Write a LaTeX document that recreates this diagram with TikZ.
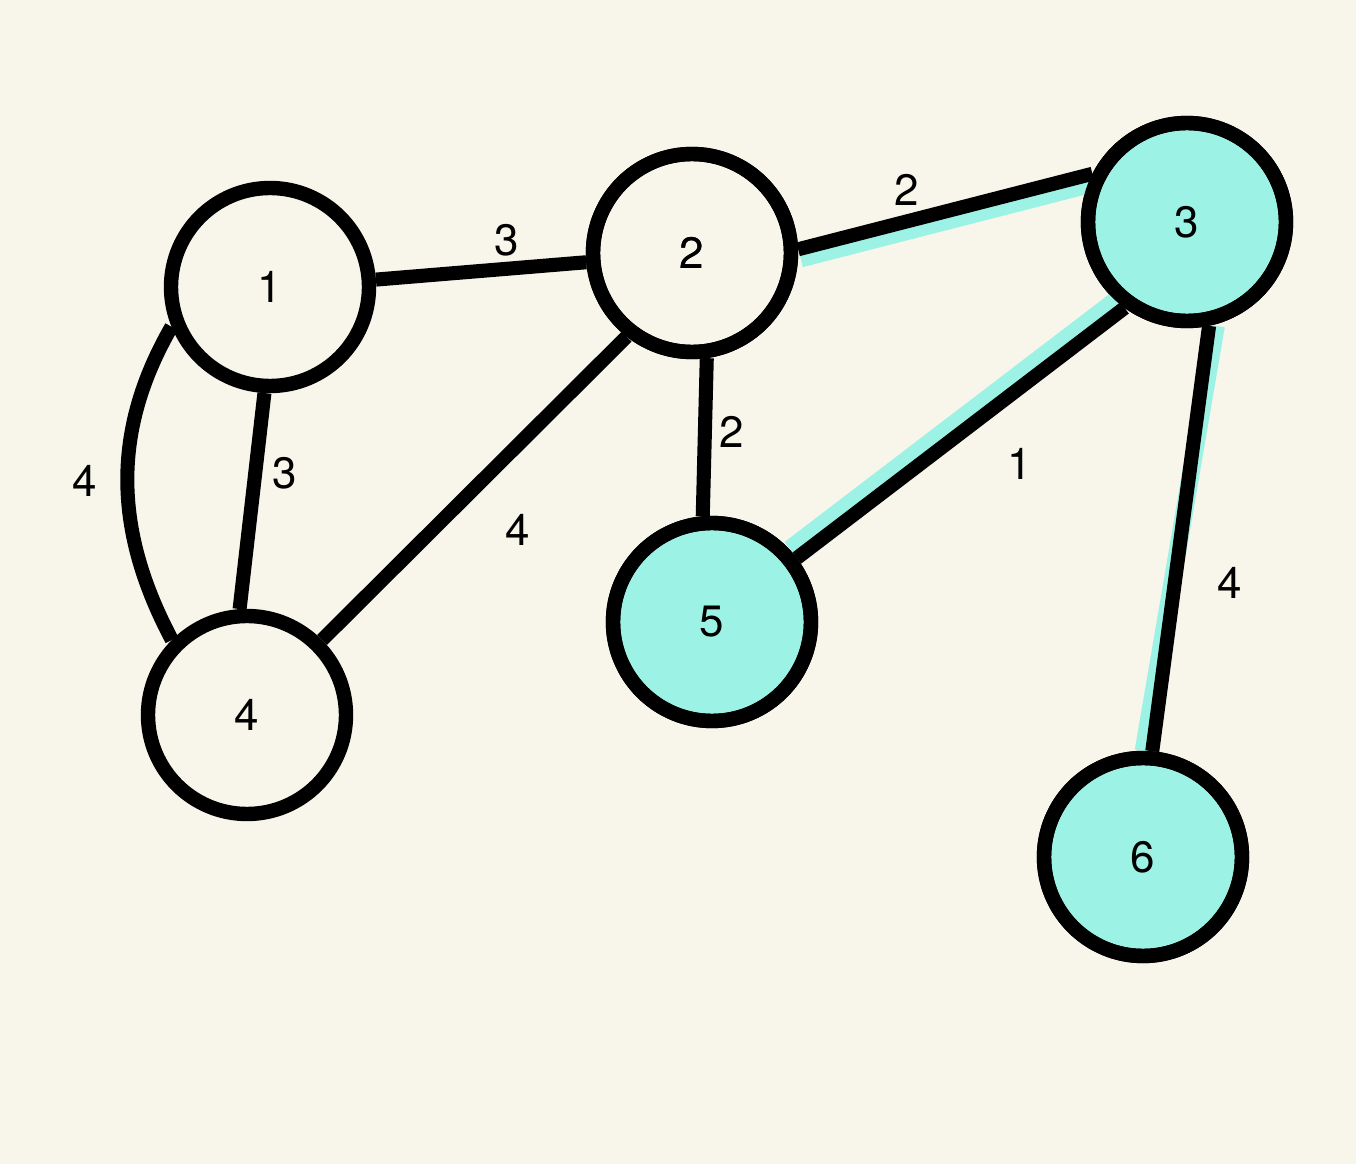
\documentclass[tikz,border=0pt]{standalone}
\usepackage{fontspec}
\setmainfont{TeX Gyre Heros}
\usepackage{tikz}
\usetikzlibrary{calc}
\usepackage{xcolor}
\definecolor{paper}{HTML}{F8F6EB}
\definecolor{mint}{HTML}{9DF2E6}

\begin{document}
\begin{tikzpicture}[x=1cm,y=1cm,
  vertex/.style={draw,circle,line width=8.2pt,minimum size=3.96cm,inner sep=0pt},
  chosen/.style={vertex,fill=mint},
  edge/.style={line width=8pt},
  glow/.style={line width=8pt,mint},
  weight/.style={inner sep=0pt}]
  \fontsize{25}{30}\selectfont
  \fill[paper] (0,0) rectangle (27.12,23.28);
  \useasboundingbox (0,0) rectangle (27.12,23.28);
  \node[vertex] (v1) at (5.40,17.54) {1};
  \node[vertex] (v2) at (13.84,18.22) {2};
  \node[chosen] (v3) at (23.74,18.84) {3};
  \node[vertex] (v4) at (4.94,8.98) {4};
  \node[chosen] (v5) at (14.24,10.84) {5};
  \node[chosen] (v6) at (22.86,6.14) {6};
  % highlighted tree edges, under the black ones
  \draw[glow,transform canvas={shift={(0.06,-0.22)}}] (v2.2) -- (v3.153);
  \draw[glow,transform canvas={shift={(-0.16,0.21)}}] (v3.234) -- (v5.37);
  \draw[glow,line width=10pt] ($(v3.282)+(0.14,0)$) -- ($(v6.86)+(-0.14,0)$);
  \draw[edge] (v1.4) -- (v2.185);
  \draw[edge] (v2.2) -- (v3.153);
  \draw[edge] (v2.278) -- (v5.95);
  \draw[edge] (v3.234) -- (v5.37);
  \draw[edge] (v3.282) -- (v6.85);
  \draw[edge] (v1.267) -- (v4.94);
  \draw[edge] (v2.232) -- (v4.45);
  \draw[edge] (v1.202) to[out=240,in=118] (v4.135);
  % redraw the rims over the glow
  \node[vertex] at (v2) {2};
  \node[vertex] at (v3) {};
  \node[vertex] at (v5) {};
  \node[vertex] at (v6) {};
  \node[weight] (w12) at (10.14,18.48) {3};
  \node[weight] (w23) at (18.14,19.48) {2};
  \node[weight] (w25) at (14.64,14.64) {2};
  \node[weight] (w35) at (20.40,14.00) {1};
  \node[weight] (w36) at (24.60,11.62) {4};
  \node[weight] (w14a) at (1.70,13.66) {4};
  \node[weight] (w14b) at (5.70,13.82) {3};
  \node[weight] (w24) at (10.36,12.68) {4};
\end{tikzpicture}
\end{document}
